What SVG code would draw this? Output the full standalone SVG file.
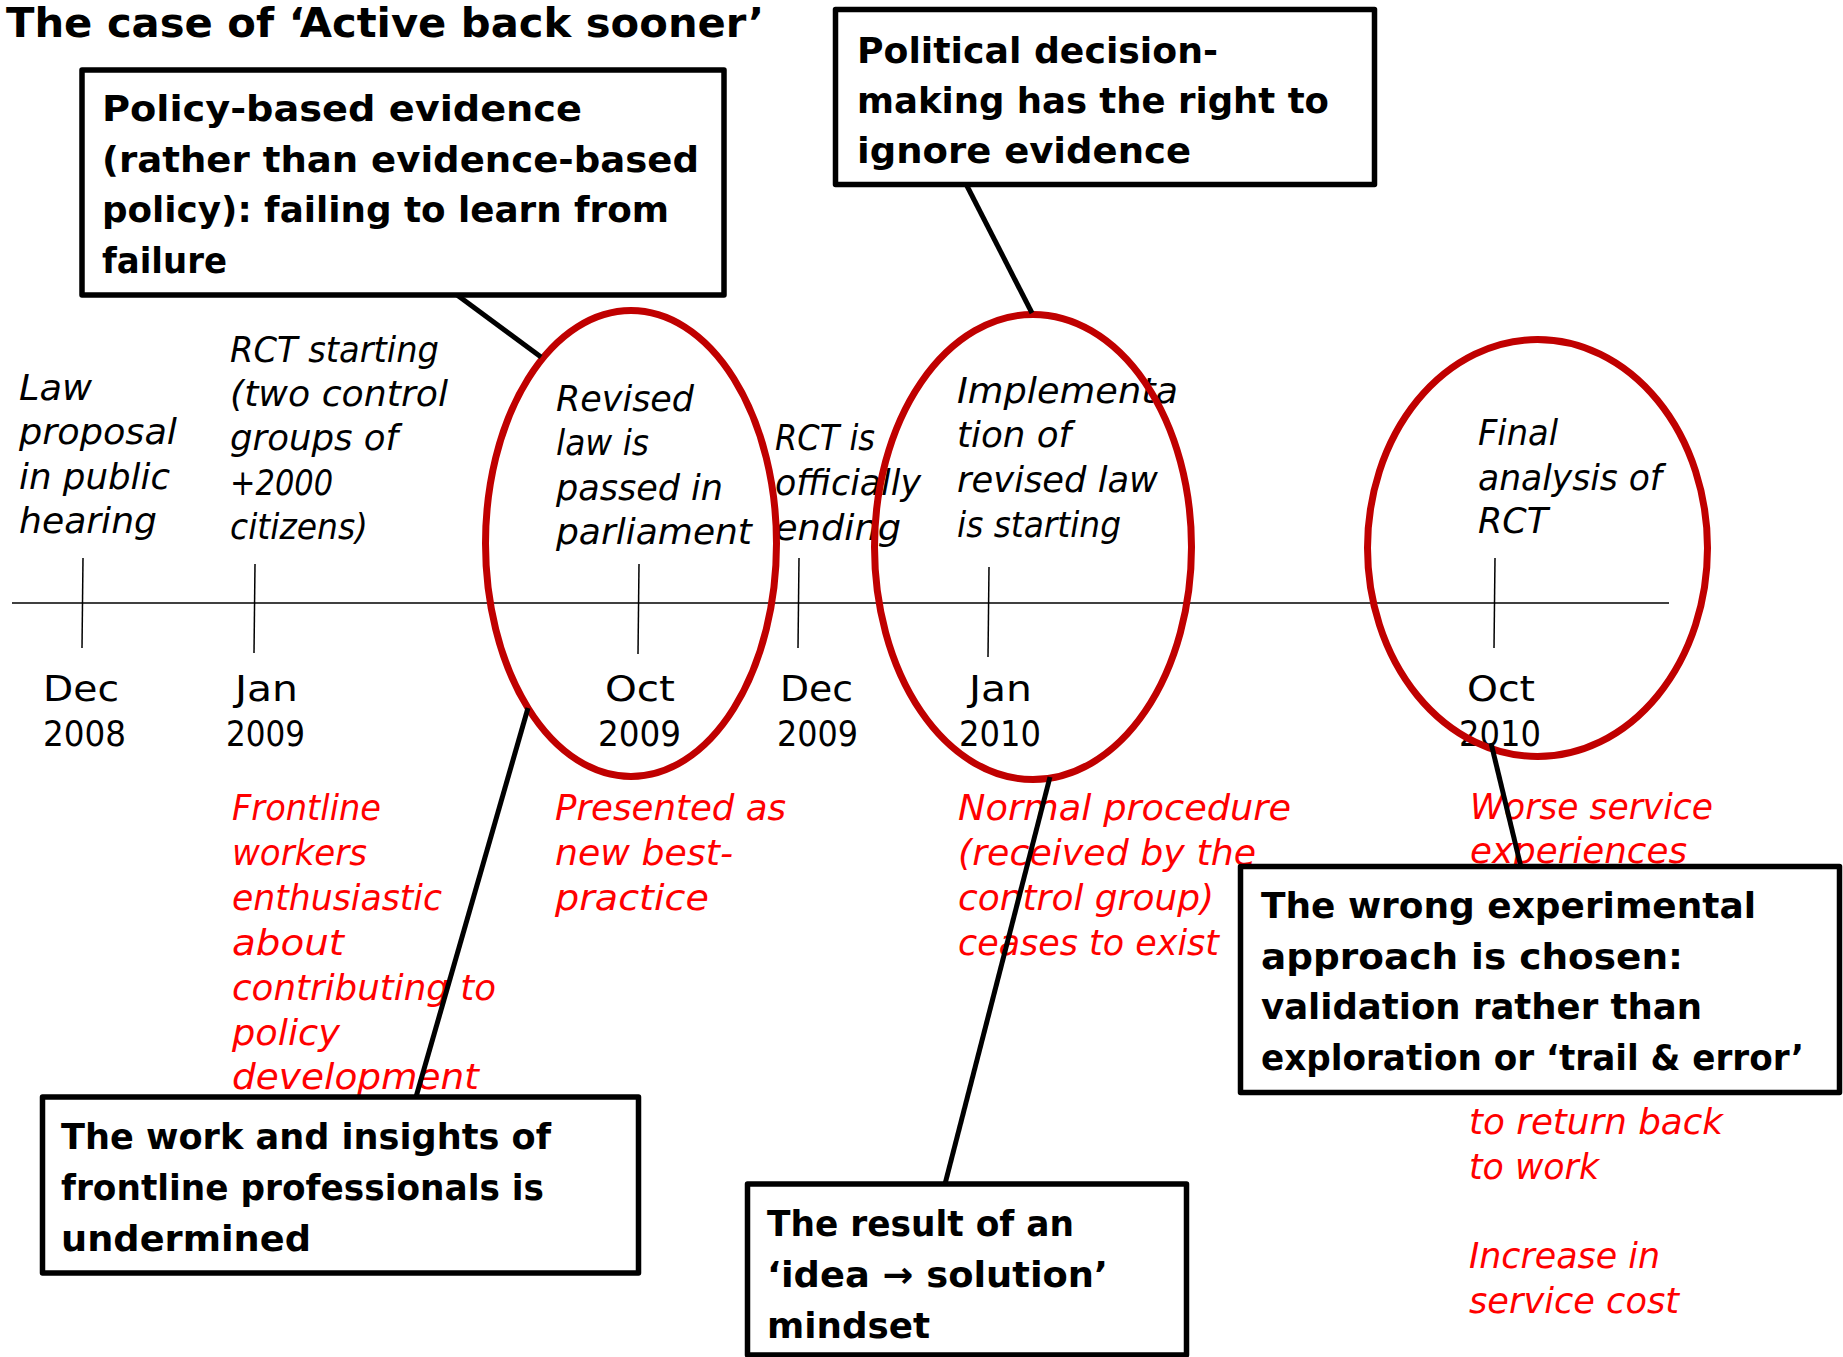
<svg xmlns="http://www.w3.org/2000/svg" width="1843" height="1357" viewBox="0 0 1843 1357">
  <style>
    text { font-family: "DejaVu Sans", "Liberation Sans", sans-serif; fill: #000; }
    .title { font-size: 40px; font-weight: bold; }
    .note { font-size: 36px; font-weight: bold; }
    .event { font-size: 36px; font-style: italic; }
    .date { font-size: 36px; }
    .effect { font-size: 36px; font-style: italic; fill: #FF0000; }
    .axis { stroke: #000; stroke-width: 1.5; fill: none; }
    .tick { stroke: #000; stroke-width: 1.5; fill: none; }
    .ring { stroke: #C00000; stroke-width: 7; fill: none; }
    .box { stroke: #000; stroke-width: 5.5; fill: #fff; stroke-linejoin: round; }
    .link { stroke: #000; stroke-width: 5; fill: none; stroke-linecap: butt; }
  </style>

  <rect width="1843" height="1357" fill="#fff"/>

  <!-- timeline axis -->
  <line class="axis" x1="12" y1="603" x2="1669" y2="603"/>

  <!-- timeline events -->
  <g id="event-dec-2008">
    <line class="tick" x1="83" y1="558" x2="82" y2="648"/>
    <text class="event" x="19" y="400" textLength="73" lengthAdjust="spacingAndGlyphs">Law</text>
    <text class="event" x="19" y="444" textLength="158" lengthAdjust="spacingAndGlyphs">proposal</text>
    <text class="event" x="19" y="489" textLength="151" lengthAdjust="spacingAndGlyphs">in public</text>
    <text class="event" x="19" y="533" textLength="138" lengthAdjust="spacingAndGlyphs">hearing</text>
    <text class="date" x="43" y="701" textLength="76" lengthAdjust="spacingAndGlyphs">Dec</text>
    <text class="date" x="43" y="746" textLength="83" lengthAdjust="spacingAndGlyphs">2008</text>
  </g>

  <g id="event-jan-2009">
    <line class="tick" x1="255" y1="564" x2="254" y2="653"/>
    <text class="event" x="230" y="362" textLength="209" lengthAdjust="spacingAndGlyphs">RCT starting</text>
    <text class="event" x="230" y="406" textLength="218" lengthAdjust="spacingAndGlyphs">(two control</text>
    <text class="event" x="230" y="450" textLength="168" lengthAdjust="spacingAndGlyphs">groups of</text>
    <text class="event" x="230" y="495" textLength="103" lengthAdjust="spacingAndGlyphs">+2000</text>
    <text class="event" x="230" y="539" textLength="138" lengthAdjust="spacingAndGlyphs">citizens)</text>
    <text class="date" x="235" y="701" textLength="63" lengthAdjust="spacingAndGlyphs">Jan</text>
    <text class="date" x="226" y="746" textLength="79" lengthAdjust="spacingAndGlyphs">2009</text>
    <text class="effect" x="232" y="820" textLength="149" lengthAdjust="spacingAndGlyphs">Frontline</text>
    <text class="effect" x="232" y="865" textLength="135" lengthAdjust="spacingAndGlyphs">workers</text>
    <text class="effect" x="232" y="910" textLength="210" lengthAdjust="spacingAndGlyphs">enthusiastic</text>
    <text class="effect" x="232" y="955" textLength="112" lengthAdjust="spacingAndGlyphs">about</text>
    <text class="effect" x="232" y="1000" textLength="264" lengthAdjust="spacingAndGlyphs">contributing to</text>
    <text class="effect" x="232" y="1045" textLength="108" lengthAdjust="spacingAndGlyphs">policy</text>
    <text class="effect" x="232" y="1089" textLength="247" lengthAdjust="spacingAndGlyphs">development</text>
  </g>

  <g id="event-oct-2009">
    <line class="tick" x1="639" y1="564" x2="638" y2="654"/>
    <text class="event" x="556" y="411" textLength="138" lengthAdjust="spacingAndGlyphs">Revised</text>
    <text class="event" x="556" y="455" textLength="93" lengthAdjust="spacingAndGlyphs">law is</text>
    <text class="event" x="556" y="500" textLength="167" lengthAdjust="spacingAndGlyphs">passed in</text>
    <text class="event" x="556" y="544" textLength="196" lengthAdjust="spacingAndGlyphs">parliament</text>
    <text class="date" x="605" y="701" textLength="70" lengthAdjust="spacingAndGlyphs">Oct</text>
    <text class="date" x="598" y="746" textLength="83" lengthAdjust="spacingAndGlyphs">2009</text>
    <text class="effect" x="555" y="820" textLength="231" lengthAdjust="spacingAndGlyphs">Presented as</text>
    <text class="effect" x="555" y="865" textLength="178" lengthAdjust="spacingAndGlyphs">new best-</text>
    <text class="effect" x="555" y="910" textLength="154" lengthAdjust="spacingAndGlyphs">practice</text>
  </g>

  <g id="event-dec-2009">
    <line class="tick" x1="799" y1="558" x2="798" y2="648"/>
    <text class="event" x="775" y="450" textLength="100" lengthAdjust="spacingAndGlyphs">RCT is</text>
    <text class="event" x="775" y="495" textLength="146" lengthAdjust="spacingAndGlyphs">officially</text>
    <text class="event" x="775" y="540" textLength="126" lengthAdjust="spacingAndGlyphs">ending</text>
    <text class="date" x="780" y="701" textLength="73" lengthAdjust="spacingAndGlyphs">Dec</text>
    <text class="date" x="777" y="746" textLength="81" lengthAdjust="spacingAndGlyphs">2009</text>
  </g>

  <g id="event-jan-2010">
    <line class="tick" x1="989" y1="567" x2="988" y2="657"/>
    <text class="event" x="957" y="403" textLength="221" lengthAdjust="spacingAndGlyphs">Implementa</text>
    <text class="event" x="957" y="447" textLength="114" lengthAdjust="spacingAndGlyphs">tion of</text>
    <text class="event" x="957" y="492" textLength="201" lengthAdjust="spacingAndGlyphs">revised law</text>
    <text class="event" x="957" y="537" textLength="164" lengthAdjust="spacingAndGlyphs">is starting</text>
    <text class="date" x="969" y="701" textLength="63" lengthAdjust="spacingAndGlyphs">Jan</text>
    <text class="date" x="959" y="746" textLength="82" lengthAdjust="spacingAndGlyphs">2010</text>
    <text class="effect" x="958" y="820" textLength="333" lengthAdjust="spacingAndGlyphs">Normal procedure</text>
    <text class="effect" x="958" y="865" textLength="298" lengthAdjust="spacingAndGlyphs">(received by the</text>
    <text class="effect" x="958" y="910" textLength="256" lengthAdjust="spacingAndGlyphs">control group)</text>
    <text class="effect" x="958" y="955" textLength="261" lengthAdjust="spacingAndGlyphs">ceases to exist</text>
  </g>

  <g id="event-oct-2010">
    <line class="tick" x1="1495" y1="558" x2="1494" y2="648"/>
    <text class="event" x="1478" y="445" textLength="80" lengthAdjust="spacingAndGlyphs">Final</text>
    <text class="event" x="1478" y="490" textLength="184" lengthAdjust="spacingAndGlyphs">analysis of</text>
    <text class="event" x="1478" y="533" textLength="70" lengthAdjust="spacingAndGlyphs">RCT</text>
    <text class="date" x="1467" y="701" textLength="68" lengthAdjust="spacingAndGlyphs">Oct</text>
    <text class="date" x="1459" y="746" textLength="82" lengthAdjust="spacingAndGlyphs">2010</text>
    <text class="effect" x="1470" y="819" textLength="243" lengthAdjust="spacingAndGlyphs">Worse service</text>
    <text class="effect" x="1470" y="863" textLength="217" lengthAdjust="spacingAndGlyphs">experiences</text>
    <text class="effect" x="1469" y="1134" textLength="254" lengthAdjust="spacingAndGlyphs">to return back</text>
    <text class="effect" x="1469" y="1179" textLength="130" lengthAdjust="spacingAndGlyphs">to work</text>
    <text class="effect" x="1469" y="1268" textLength="191" lengthAdjust="spacingAndGlyphs">Increase in</text>
    <text class="effect" x="1469" y="1313" textLength="210" lengthAdjust="spacingAndGlyphs">service cost</text>
  </g>

  <!-- highlight rings around key moments -->
  <g id="highlights">
    <ellipse id="ring-oct-2009" class="ring" cx="631" cy="543.5" rx="145.5" ry="233"/>
    <ellipse id="ring-jan-2010" class="ring" cx="1033" cy="547" rx="158.5" ry="232.5"/>
    <ellipse id="ring-oct-2010" class="ring" cx="1537.5" cy="548" rx="170" ry="208.5"/>
  </g>

  <!-- callout leader lines -->
  <g id="connectors">
    <line class="link" x1="453" y1="292" x2="541" y2="357"/>
    <line class="link" x1="966" y1="184" x2="1032" y2="313"/>
    <line class="link" x1="528" y1="708" x2="416" y2="1097"/>
    <line class="link" x1="1050" y1="777" x2="945" y2="1184"/>
    <line class="link" x1="1491" y1="743" x2="1521" y2="867"/>
  </g>

  <!-- callout boxes -->
  <g id="note-policy-based-evidence">
    <rect class="box" x="82" y="70" width="642" height="225"/>
    <text class="note" x="102" y="121" textLength="480" lengthAdjust="spacingAndGlyphs">Policy-based evidence</text>
    <text class="note" x="102" y="172" textLength="597" lengthAdjust="spacingAndGlyphs">(rather than evidence-based</text>
    <text class="note" x="102" y="222" textLength="567" lengthAdjust="spacingAndGlyphs">policy): failing to learn from</text>
    <text class="note" x="102" y="273" textLength="125" lengthAdjust="spacingAndGlyphs">failure</text>
  </g>

  <g id="note-political-decision">
    <rect class="box" x="835.5" y="9.5" width="539" height="175"/>
    <text class="note" x="857" y="63" textLength="361" lengthAdjust="spacingAndGlyphs">Political decision-</text>
    <text class="note" x="857" y="113" textLength="472" lengthAdjust="spacingAndGlyphs">making has the right to</text>
    <text class="note" x="857" y="163" textLength="334" lengthAdjust="spacingAndGlyphs">ignore evidence</text>
  </g>

  <g id="note-frontline-undermined">
    <rect class="box" x="42.5" y="1097" width="596" height="176"/>
    <text class="note" x="61" y="1149" textLength="490" lengthAdjust="spacingAndGlyphs">The work and insights of</text>
    <text class="note" x="61" y="1200" textLength="483" lengthAdjust="spacingAndGlyphs">frontline professionals is</text>
    <text class="note" x="61" y="1251" textLength="250" lengthAdjust="spacingAndGlyphs">undermined</text>
  </g>

  <g id="note-idea-solution">
    <rect class="box" x="747.5" y="1184" width="439" height="171"/>
    <text class="note" x="767" y="1236" textLength="307" lengthAdjust="spacingAndGlyphs">The result of an</text>
    <text class="note" x="767" y="1287" textLength="341" lengthAdjust="spacingAndGlyphs">‘idea → solution’</text>
    <text class="note" x="767" y="1338" textLength="163" lengthAdjust="spacingAndGlyphs">mindset</text>
  </g>

  <g id="note-wrong-approach">
    <rect class="box" x="1240.5" y="866.5" width="599" height="226"/>
    <text class="note" x="1261" y="918" textLength="495" lengthAdjust="spacingAndGlyphs">The wrong experimental</text>
    <text class="note" x="1261" y="969" textLength="422" lengthAdjust="spacingAndGlyphs">approach is chosen:</text>
    <text class="note" x="1261" y="1019" textLength="441" lengthAdjust="spacingAndGlyphs">validation rather than</text>
    <text class="note" x="1261" y="1070" textLength="543" lengthAdjust="spacingAndGlyphs">exploration or ‘trail &amp; error’</text>
  </g>

  <!-- heading -->
  <text id="heading" class="title" x="6" y="37" textLength="758" lengthAdjust="spacingAndGlyphs">The case of ‘Active back sooner’</text>
</svg>
